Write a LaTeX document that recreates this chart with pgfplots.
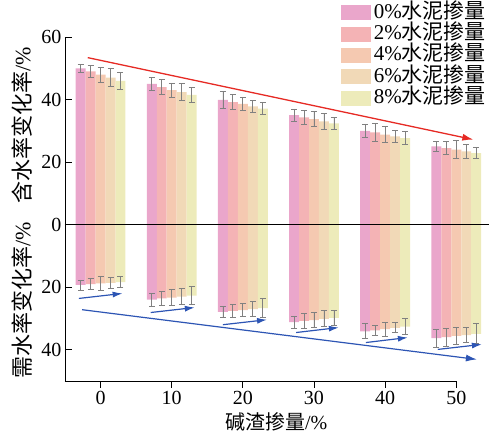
\documentclass[border=0pt]{standalone}
\usepackage{fontspec}
\setmainfont{Liberation Serif}
\newfontfamily\cjk{Noto Sans CJK SC}
\usepackage{pgfplots}
\pgfplotsset{compat=1.18}
\usetikzlibrary{arrows.meta}

\definecolor{c0}{HTML}{EAA6CB}
\definecolor{c2}{HTML}{F4B3B5}
\definecolor{c4}{HTML}{F5C9B1}
\definecolor{c6}{HTML}{F1D9B7}
\definecolor{c8}{HTML}{EDEBBA}
\definecolor{redarrow}{HTML}{E62A24}
\definecolor{bluearrow}{HTML}{2D55B4}

\pgfplotsset{
  mybar/.style={fill=#1, draw=none,
    legend image code/.code={\fill[fill=#1] (0pt,-7.5pt) rectangle (30pt,7.5pt);}},
}

% x = alkali residue content (%), y = change rate (%), e = error
\pgfplotstableread{
x  y     e
0  50.0  1.2
0  -19.3 1.6
10 45.0  2.2
10 -24.0 2.0
20 39.9  2.6
20 -27.9 1.8
30 35.0  2.0
30 -31.2 2.0
40 30.0  2.2
40 -34.1 2.4
50 25.0  1.6
50 -36.3 2.8
}\cemzero
\pgfplotstableread{
x  y     e
0  49.0  2.0
0  -19.0 1.8
10 44.0  2.4
10 -23.6 2.2
20 39.2  2.4
20 -27.6 2.0
30 34.3  2.2
30 -30.8 2.4
40 29.5  2.8
40 -33.8 1.6
50 24.5  2.2
50 -36.0 2.8
}\cemtwo
\pgfplotstableread{
x  y     e
0  48.0  2.4
0  -18.8 2.1
10 43.0  2.3
10 -23.3 2.6
20 38.6  2.2
20 -27.3 2.2
30 33.7  2.4
30 -30.5 2.4
40 28.8  2.6
40 -33.4 2.2
50 24.0  2.8
50 -35.6 2.6
}\cemfour
\pgfplotstableread{
x  y     e
0  47.0  2.8
0  -18.6 1.8
10 42.4  2.8
10 -23.0 2.6
20 37.8  2.0
20 -27.0 2.4
30 33.0  2.6
30 -30.1 2.6
40 28.2  2.0
40 -33.0 1.6
50 23.4  2.3
50 -35.3 2.4
}\cemsix
\pgfplotstableread{
x  y     e
0  46.0  2.6
0  -18.4 1.8
10 41.5  2.5
10 -22.7 2.8
20 37.1  2.0
20 -26.7 3.0
30 32.4  2.0
30 -29.8 2.4
40 27.7  2.0
40 -32.6 2.6
50 22.9  1.8
50 -34.9 3.2
}\cemeight

\begin{document}
\begin{tikzpicture}
\begin{axis}[
  scale only axis,
  width=424pt, height=344pt,
  xmin=-5, xmax=54.6,
  ymin=-50, ymax=60,
  axis x line*=bottom,
  axis y line*=left,
  x axis line style={draw=none},
  axis line style={line width=0.9pt},
  xtick={0,10,...,50},
  ytick={-40,-20,...,60},
  yticklabel={\pgfmathparse{abs(\tick)}\pgfmathprintnumber{\pgfmathresult}},
  tick align=inside,
  major tick length=7pt,
  tick style={black, line width=0.8pt},
  ticklabel style={font=\fontsize{20}{24}\selectfont},
  /pgf/number format/assume math mode=true,
  clip=false,
  ybar=0pt,
  bar width=1.4,
  error bars/y dir=both,
  error bars/y explicit,
  error bars/error bar style={gray, line width=0.8pt},
  error bars/error mark options={rotate=90, mark size=3pt, gray, line width=0.8pt},
  legend style={at={(1,1.099)}, anchor=north east, draw=none, fill=none,
    inner sep=0pt, row sep=2.4pt,
    font=\fontsize{21}{24}\selectfont,
    nodes={inner xsep=3pt, inner ysep=0pt, text height=15pt, text depth=4pt},
    cells={anchor=west}},
]
\addplot[mybar=c0] table[x=x, y=y, y error=e] {\cemzero};
\addplot[mybar=c2] table[x=x, y=y, y error=e] {\cemtwo};
\addplot[mybar=c4] table[x=x, y=y, y error=e] {\cemfour};
\addplot[mybar=c6] table[x=x, y=y, y error=e] {\cemsix};
\addplot[mybar=c8] table[x=x, y=y, y error=e] {\cemeight};
\legend{0\%{\cjk 水泥掺量}, 2\%{\cjk 水泥掺量}, 4\%{\cjk 水泥掺量}, 6\%{\cjk 水泥掺量}, 8\%{\cjk 水泥掺量}}

% zero line and bottom axis line
\draw[black, line width=1pt] (-5,0) -- (54.6,0);
\draw[black, line width=0.9pt] (-5,-50) -- (50,-50);

% trend arrows
\draw[redarrow, line width=1.3pt, -{Latex[length=11pt, width=7pt]}] (-1.8,53.4) -- (52.4,27.2);
\draw[bluearrow, line width=1.2pt, -{Latex[length=11pt, width=7pt]}] (-2.6,-27.2) -- (52.9,-43.1);
\draw[bluearrow, line width=1.2pt, -{Latex[length=10pt, width=6pt]}] (-3.05,-23.6) -- (3.1,-22.0);
\draw[bluearrow, line width=1.2pt, -{Latex[length=10pt, width=6pt]}] (7.05,-28.1) -- (13.25,-26.5);
\draw[bluearrow, line width=1.2pt, -{Latex[length=10pt, width=6pt]}] (17.2,-32.0) -- (23.4,-30.4);
\draw[bluearrow, line width=1.2pt, -{Latex[length=10pt, width=6pt]}] (27.5,-34.5) -- (33.5,-32.9);
\draw[bluearrow, line width=1.2pt, -{Latex[length=10pt, width=6pt]}] (37.3,-37.7) -- (43.2,-36.1);
\draw[bluearrow, line width=1.2pt, -{Latex[length=10pt, width=6pt]}] (47.4,-39.9) -- (53.6,-38.3);

% axis labels
\node[rotate=90, font=\fontsize{22}{24}\selectfont] at ([xshift=-43pt]rel axis cs:0,0.743) {{\cjk 含水率变化率}/\%};
\node[rotate=90, font=\fontsize{22}{24}\selectfont] at ([xshift=-43pt]rel axis cs:0,0.235) {{\cjk 需水率变化率}/\%};
\node[font=\fontsize{20}{22}\selectfont, inner sep=0pt] at ([yshift=-41pt]rel axis cs:0.498,0) {{\cjk 碱渣掺量}/\%};

\coordinate (bl) at (rel axis cs:0,0);
\coordinate (tr) at (rel axis cs:1,1);
\end{axis}
\pgfresetboundingbox
\path[use as bounding box] ([xshift=-65pt,yshift=-53.3pt]bl) rectangle ([xshift=2pt,yshift=37pt]tr);
\end{tikzpicture}
\end{document}
